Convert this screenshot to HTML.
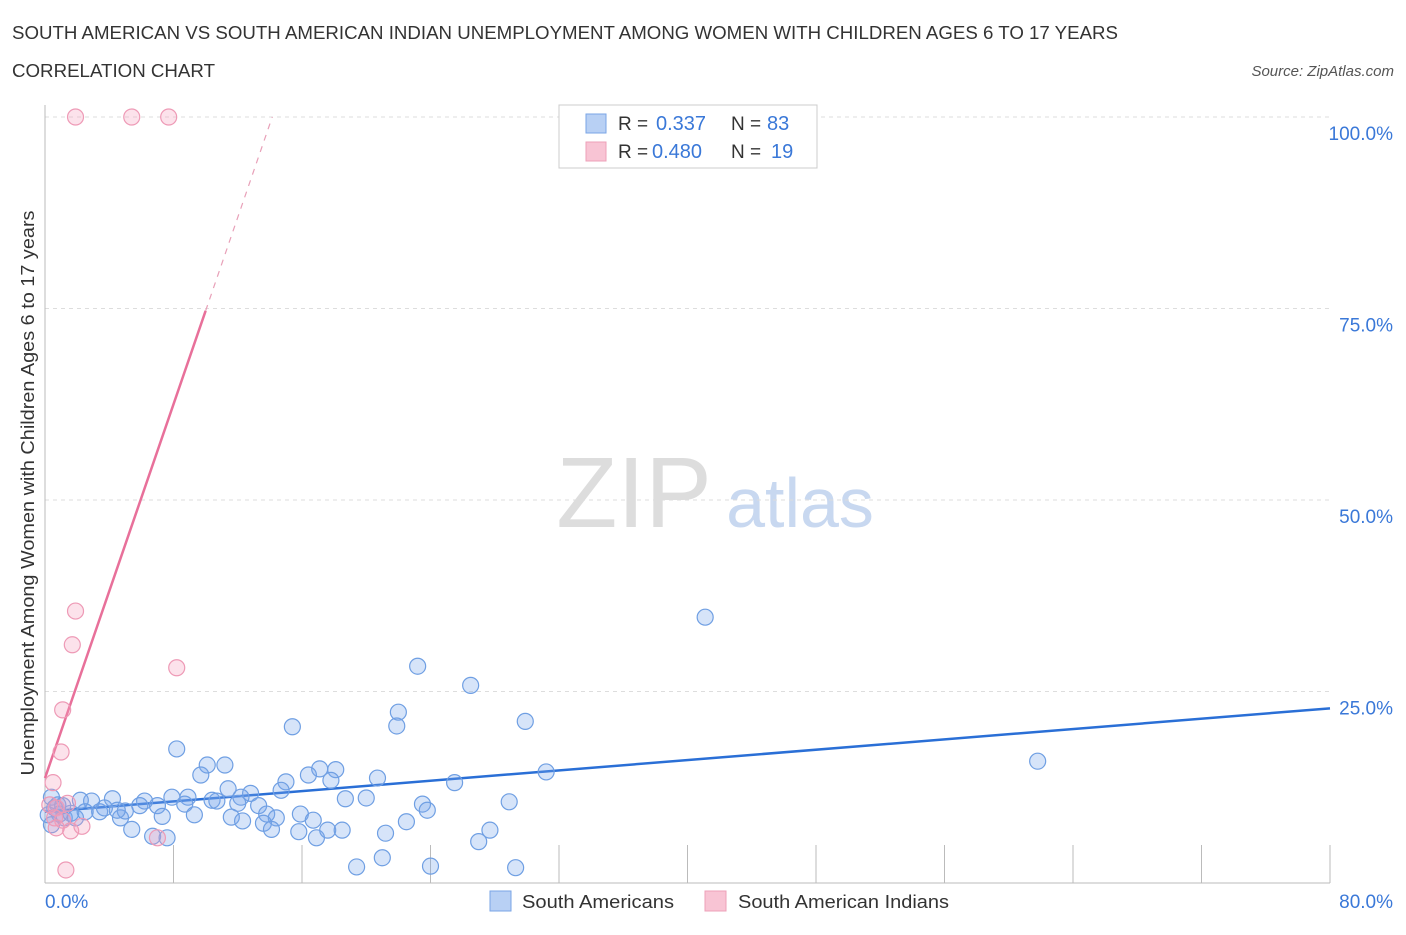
<!DOCTYPE html>
<html><head><meta charset="utf-8"><style>
body{margin:0;background:#fff;font-family:"Liberation Sans",sans-serif;}
svg text{font-family:"Liberation Sans",sans-serif;}
</style></head><body>
<svg id="chart" width="1406" height="930">
<text x="12" y="39" font-size="18" fill="#333" textLength="1106" lengthAdjust="spacingAndGlyphs">SOUTH AMERICAN VS SOUTH AMERICAN INDIAN UNEMPLOYMENT AMONG WOMEN WITH CHILDREN AGES 6 TO 17 YEARS</text>
<text x="12" y="77" font-size="18" fill="#333" textLength="203" lengthAdjust="spacingAndGlyphs">CORRELATION CHART</text>
<text x="1394" y="76" font-size="15" fill="#555" font-style="italic" text-anchor="end">Source: ZipAtlas.com</text>
<text x="634" y="527" font-size="100" fill="#ddd" font-family="Liberation Serif" text-anchor="middle">ZIP</text>
<text x="800" y="527" font-size="70" fill="#c8d8f0" text-anchor="middle">atlas</text>
<g id="grid"></g><g id="axes"></g><g id="lines"></g><g id="points"></g>
<text transform="translate(34,493) rotate(-90)" font-size="18" fill="#333" text-anchor="middle" textLength="565" lengthAdjust="spacingAndGlyphs">Unemployment Among Women with Children Ages 6 to 17 years</text>
<text x="45" y="908" font-size="19" fill="#3a78d8">0.0%</text>
<text x="1393" y="908" font-size="19" fill="#3a78d8" text-anchor="end">80.0%</text>
<g>
<rect x="559" y="105" width="258" height="63" fill="#fff" stroke="#ccc"/>
<rect x="586" y="114" width="20" height="19" fill="#b8d0f4" stroke="#7aa5e6"/>
<rect x="586" y="142" width="20" height="19" fill="#f8c4d4" stroke="#eea0b8"/>
<text x="618" y="130" font-size="19" fill="#333">R = </text><text x="656" y="130" font-size="20" fill="#3a78d8">0.337</text>
<text x="731" y="130" font-size="19" fill="#333">N = </text><text x="767" y="130" font-size="20" fill="#3a78d8">83</text>
<text x="618" y="158" font-size="19" fill="#333">R = </text><text x="652" y="158" font-size="20" fill="#3a78d8">0.480</text>
<text x="731" y="158" font-size="19" fill="#333">N = </text><text x="771" y="158" font-size="20" fill="#3a78d8">19</text>
</g>
<g><rect x="490" y="891" width="21" height="20" fill="#b8d0f4" stroke="#7aa5e6"/><text x="522" y="908" font-size="18" fill="#333" textLength="152" lengthAdjust="spacingAndGlyphs">South Americans</text></g>
<g><rect x="705" y="891" width="21" height="20" fill="#f8c4d4" stroke="#eea0b8"/><text x="738" y="908" font-size="18" fill="#333" textLength="211" lengthAdjust="spacingAndGlyphs">South American Indians</text></g>
</svg>
<script>
const yTicks=[25,50,75,100];
const yTickLabels=["25.0%","50.0%","75.0%","100.0%"];
const xTicks=[0,8,16,24,32,40,48,56,64,72,80];
const blueX=[41.1,61.8,23.2,26.5,29.9,22.0,21.9,15.4,31.2,8.2,10.1,11.2,9.7,17.1,18.1,16.4,20.7,15.0,17.8,25.5,11.4,12.8,12.2,10.4,8.9,7.9,6.2,4.2,2.9,2.2,5.9,7.0,8.7,10.7,12.0,13.3,14.7,18.7,20.0,23.5,23.8,28.9,15.9,13.8,14.4,11.6,12.3,9.3,7.3,4.7,5.4,6.7,7.6,13.6,14.1,15.8,16.7,16.9,17.6,18.5,21.2,22.5,27.7,27.0,19.4,21.0,24.0,29.3,0.4,0.6,0.9,1.2,1.6,1.9,0.4,3.4,3.7,5.0,2.5,0.8,0.2,4.5,1.1];
const blueY=[34.7,15.9,28.3,25.8,21.1,22.3,20.5,20.4,14.5,17.5,15.4,15.4,14.1,14.9,14.8,14.1,13.7,13.2,13.4,13.1,12.3,11.7,11.2,10.8,11.2,11.2,10.7,11.0,10.7,10.8,10.1,10.1,10.3,10.7,10.4,10.1,12.1,11.0,11.1,10.3,9.5,10.6,9.0,9.0,8.5,8.6,8.1,8.9,8.7,8.5,7.0,6.1,5.9,7.8,7.0,6.7,8.2,5.9,6.9,6.9,6.5,8.0,6.9,5.4,2.1,3.3,2.2,2.0,11.2,9.8,9.0,8.5,9.1,8.5,7.6,9.3,9.8,9.4,9.3,10.2,8.9,9.5,10.1];
const pinkX=[1.9,5.4,7.7,1.9,1.7,8.2,1.1,1.0,0.5,0.3,0.7,1.4,0.6,1.1,1.6,2.3,0.7,7.0,1.3];
const pinkY=[100,100,100,35.5,31.1,28.1,22.6,17.1,13.1,10.2,9.8,10.4,8.5,8.2,6.8,7.4,7.2,5.9,1.7];
const blueTrend=[9.3,22.8];
const pinkTrend=[13.7,6.1];
const NS="http://www.w3.org/2000/svg";
const X=v=>45+v*(1285/80), Y=v=>883-v*7.66;
function mk(tag,attrs,parent){const e=document.createElementNS(NS,tag);for(const k in attrs)e.setAttribute(k,attrs[k]);document.getElementById(parent).appendChild(e);return e;}
yTicks.forEach((t,i)=>{
 const l=mk('line',{x1:45,x2:1330,y1:Y(t),y2:Y(t),stroke:'#ddd','stroke-dasharray':'4,4'},'grid');
 
 
 const tx=mk('text',{x:1393,y:Y(t)+23,'font-size':19,fill:'#3a78d8','text-anchor':'end'},'grid');
 tx.textContent=yTickLabels[i];
 
 
});
const ax=mk('line',{x1:45,x2:1330,y1:883,y2:883,stroke:'#bbb'},'axes');


const ay=mk('line',{x1:45,x2:45,y1:105,y2:883,stroke:'#bbb'},'axes');


xTicks.forEach(t=>{const l=mk('line',{x1:X(t),x2:X(t),y1:845,y2:883,stroke:'#bbb'},'axes');
 
 });
const bl=mk('line',{x1:X(0),y1:Y(blueTrend[0]),x2:X(80),y2:Y(blueTrend[1]),stroke:'#2a6fd6','stroke-width':2.5},'lines');


const xs=10;
const pl=mk('line',{x1:X(0),y1:Y(pinkTrend[0]),x2:X(xs),y2:Y(pinkTrend[0]+pinkTrend[1]*xs),stroke:'#e8709a','stroke-width':2.5},'lines');


const xe=(100-pinkTrend[0])/pinkTrend[1];
const pd=mk('line',{x1:X(xs),y1:Y(pinkTrend[0]+pinkTrend[1]*xs),x2:X(xe),y2:Y(100),stroke:'#e8a0b8','stroke-width':1.2,'stroke-dasharray':'6,6'},'lines');


blueX.forEach((v,i)=>{const c=mk('circle',{cx:X(v),cy:Y(blueY[i]),r:8,fill:'rgba(120,165,235,0.3)',stroke:'#6f9fe3','stroke-width':1.2},'points');
 
 });
pinkX.forEach((v,i)=>{const c=mk('circle',{cx:X(v),cy:Y(pinkY[i]),r:8,fill:'rgba(245,160,190,0.3)',stroke:'#ee9ab6','stroke-width':1.2},'points');
 
 });
</script>
</body></html>
